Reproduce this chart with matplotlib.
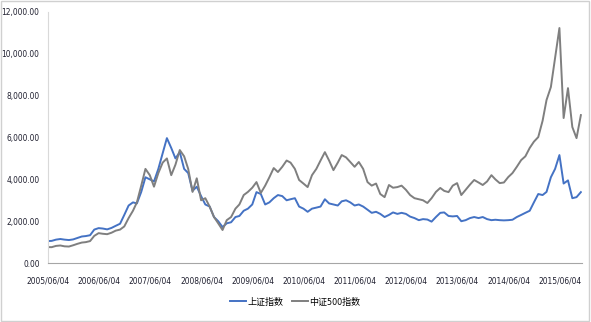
import datetime as dt
import matplotlib
matplotlib.use("Agg")
import matplotlib.pyplot as plt
import matplotlib.dates as mdates
from matplotlib.ticker import FuncFormatter
import pandas as pd

plt.rcParams['font.family'] = ['DejaVu Sans', 'Noto Sans CJK SC']
plt.rcParams['font.stretch'] = 'condensed'

# month-start samples, 2005/06 .. 2015/11
months = pd.date_range("2005-06-01", "2015-11-01", freq="MS")

sh_index = [
    1050, 1060, 1120, 1150, 1120, 1100, 1130,
    1200, 1270, 1290, 1330, 1600, 1670, 1650, 1610, 1680, 1780, 1880, 2300,
    2750, 2900, 2850, 3400, 4100, 4000, 3900, 4500, 5250, 5970, 5500, 5000,
    5300, 4500, 4300, 3450, 3650, 3200, 2800, 2700, 2200, 2000, 1720, 1900,
    1950, 2200, 2250, 2500, 2600, 2800, 3390, 3300, 2800, 2900, 3100, 3250,
    3200, 3000, 3050, 3100, 2700, 2600, 2450, 2600, 2650, 2700, 3050, 2850,
    2800, 2750, 2950, 3000, 2900, 2750, 2800, 2700, 2550, 2400, 2450, 2350,
    2200, 2300, 2420, 2350, 2400, 2350, 2220, 2150, 2050, 2100, 2080, 1980,
    2200, 2400, 2420, 2250, 2230, 2250, 2000, 2050, 2150, 2200, 2150, 2200,
    2100, 2050, 2070, 2050, 2040, 2050, 2070, 2200, 2300, 2400, 2500, 2900,
    3300, 3250, 3400, 4100, 4500, 5160, 3800, 3950, 3100, 3150, 3390,
]

csi500 = [
    765, 760, 820, 840, 800, 790, 850,
    920, 980, 1000, 1050, 1300, 1430, 1400, 1380, 1450, 1550, 1600, 1750,
    2150, 2500, 2900, 3700, 4500, 4200, 3650, 4300, 4800, 5000, 4200, 4700,
    5400, 5100, 4500, 3400, 4050, 3000, 3100, 2700, 2200, 1900, 1580, 2050,
    2200, 2600, 2800, 3250, 3400, 3600, 3870, 3350, 3700, 4100, 4540, 4350,
    4600, 4900, 4800, 4500, 3970, 3800, 3630, 4200, 4500, 4900, 5300, 4900,
    4440, 4800, 5160, 5050, 4830, 4600, 4830, 4500, 3870, 3700, 3800, 3300,
    3150, 3730, 3600, 3630, 3700, 3500, 3250, 3100, 3050, 3000, 2870, 3100,
    3400, 3590, 3450, 3390, 3700, 3820, 3250, 3500, 3750, 3970, 3850, 3730,
    3900, 4200, 4000, 3820, 3850, 4110, 4300, 4600, 4920, 5100, 5500, 5800,
    6020, 6800, 7790, 8410, 9800, 11230, 6930, 8360, 6500, 5970, 7070,
]

series_names = ['上证指数', '中证500指数']
series_colors = ['#4472C4', '#7F7F7F']

tick_dates = [dt.date(y, 6, 4) for y in range(2005, 2016)]

fig = plt.figure(figsize=(5.91, 3.22), dpi=100)
fig.patches.append(plt.Rectangle((0.002, 0.003), 0.995, 0.994, transform=fig.transFigure,
                                 fill=False, edgecolor='#D0D0D0', linewidth=1.0))
ax = fig.add_axes([0.081, 0.183, 0.904, 0.78])

ax.plot(months, sh_index, color=series_colors[0], linewidth=1.4, label=series_names[0])
ax.plot(months, csi500, color=series_colors[1], linewidth=1.4, label=series_names[1])

ax.set_ylim(0, 12000)
ax.set_yticks(range(0, 12001, 2000))
ax.yaxis.set_major_formatter(FuncFormatter(lambda v, p: f"{v:,.2f}"))
ax.set_xlim(dt.date(2005, 6, 4), dt.date(2015, 11, 10))
ax.set_xticks(tick_dates)
ax.xaxis.set_major_formatter(mdates.DateFormatter('%Y/%m/%d'))

for side in ['top', 'right']:
    ax.spines[side].set_visible(False)
ax.spines['left'].set_color('#D9D9D9')
ax.spines['bottom'].set_color('#A6A6A6')
ax.tick_params(axis='both', length=0, labelsize=6, colors='#202030')
ax.tick_params(axis='y', pad=6)
ax.tick_params(axis='x', pad=10)

fig.legend(loc='center', bbox_to_anchor=(0.5, 0.062), ncol=2, frameon=False,
           fontsize=6.5, handlelength=1.7, handletextpad=0.2, columnspacing=1.0)

fig.savefig("out.png", dpi=100)
